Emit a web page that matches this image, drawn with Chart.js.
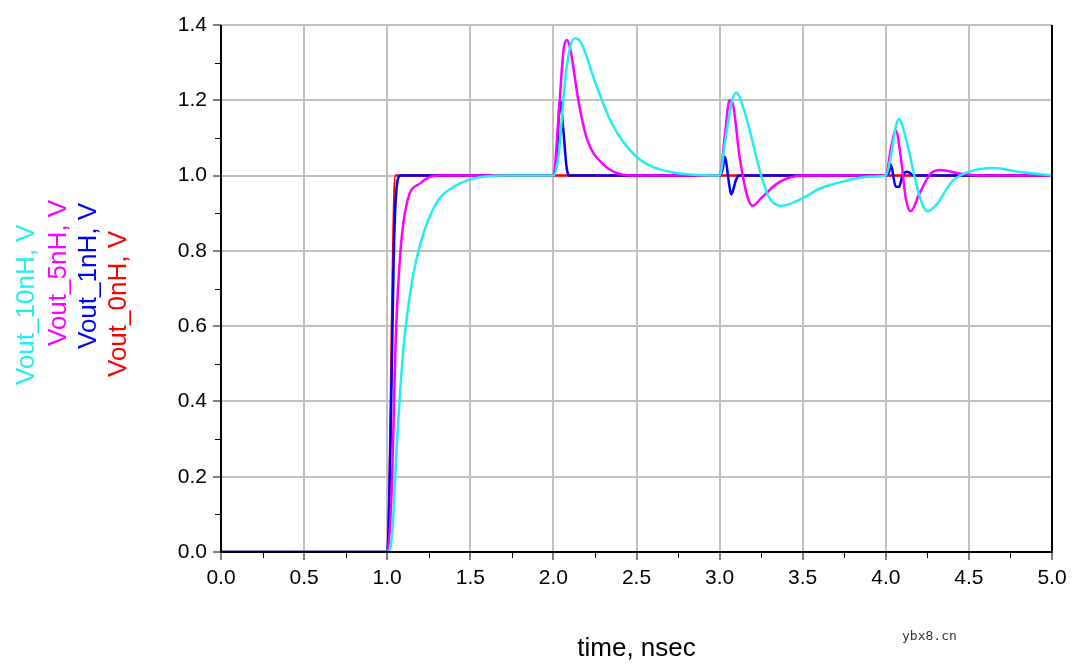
<!DOCTYPE html>
<html>
<head>
<meta charset="utf-8">
<script src="https://cdn.jsdelivr.net/npm/chart.js@4"></script>
<style>
  html, body { margin: 0; padding: 0; background: #fff; }
  #wrap { width: 1080px; height: 666px; }
</style>
</head>
<body>
<div id="wrap"><canvas id="c"></canvas></div>
<script>
// [time ns, volts] pairs
const vout10nH = [[0,0],[1.0,0],[1.03,0.05],[1.06,0.3],[1.1,0.55],[1.15,0.72],[1.2,0.82],[1.3,0.93],[1.4,0.97],[1.5,0.99],[1.7,1.0],[2.0,1.0],[2.03,1.05],[2.07,1.25],[2.1,1.34],[2.13,1.365],[2.17,1.35],[2.25,1.25],[2.35,1.14],[2.5,1.05],[2.7,1.01],[3.0,1.0],[3.03,1.08],[3.07,1.19],[3.1,1.22],[3.15,1.17],[3.25,1.0],[3.3,0.94],[3.37,0.92],[3.5,0.94],[3.6,0.965],[3.75,0.985],[3.9,0.997],[4.0,1.0],[4.03,1.05],[4.06,1.13],[4.08,1.15],[4.12,1.1],[4.2,0.95],[4.25,0.905],[4.3,0.92],[4.4,0.985],[4.5,1.01],[4.65,1.02],[4.8,1.01],[5.0,1.0]];
const vout5nH = [[0,0],[1.0,0],[1.03,0.2],[1.05,0.55],[1.08,0.8],[1.12,0.93],[1.2,0.98],[1.3,1.0],[2.0,1.0],[2.03,1.15],[2.06,1.33],[2.08,1.36],[2.1,1.34],[2.15,1.2],[2.2,1.1],[2.3,1.03],[2.5,1.0],[3.0,1.0],[3.03,1.1],[3.06,1.2],[3.08,1.19],[3.12,1.05],[3.17,0.94],[3.2,0.92],[3.25,0.94],[3.35,0.98],[3.5,1.0],[4.0,1.0],[4.03,1.07],[4.06,1.12],[4.09,1.05],[4.12,0.94],[4.15,0.905],[4.2,0.95],[4.27,1.005],[4.33,1.015],[4.45,1.005],[4.6,1.0],[5.0,1.0]];
const vout1nH = [[0,0],[1.0,0],[1.02,0.3],[1.04,0.8],[1.06,0.98],[1.08,1.0],[2.0,1.0],[2.02,1.05],[2.04,1.2],[2.06,1.12],[2.08,1.02],[2.1,1.0],[3.0,1.0],[3.02,1.02],[3.03,1.05],[3.06,0.97],[3.07,0.95],[3.1,0.99],[3.12,1.0],[4.0,1.0],[4.02,1.01],[4.03,1.03],[4.06,0.97],[4.08,0.97],[4.1,1.0],[4.13,1.01],[4.17,1.0],[5.0,1.0]];
const vout0nH = [[0,0],[1.0,0],[1.05,1.0],[5.0,1.0]];
const seriesNames = ['Vout_10nH, V', 'Vout_5nH, V', 'Vout_1nH, V', 'Vout_0nH, V'];
const seriesColors = ['#22eeee', '#ff00ff', '#0000ff', '#ff0000'];

const toPts = arr => arr.map(p => ({ x: p[0], y: p[1] }));
const allData = [vout10nH, vout5nH, vout1nH, vout0nH];

const extras = {
  id: 'extras',
  afterDraw(chart) {
    const ctx = chart.ctx;
    const a = chart.chartArea;
    const xs = chart.scales.x, ys = chart.scales.y;
    ctx.save();
    ctx.strokeStyle = '#000';
    ctx.lineWidth = 1;
    // minor ticks
    for (let v = 0.1; v < 1.4; v += 0.2) {
      const y = Math.round(ys.getPixelForValue(v)) + 0.5;
      ctx.beginPath(); ctx.moveTo(a.left - 6, y); ctx.lineTo(a.left, y); ctx.stroke();
    }
    for (let v = 0.25; v < 5; v += 0.5) {
      const x = Math.round(xs.getPixelForValue(v)) + 0.5;
      ctx.beginPath(); ctx.moveTo(x, a.bottom); ctx.lineTo(x, a.bottom + 6); ctx.stroke();
    }
    // frame
    ctx.lineWidth = 2;
    ctx.beginPath();
    ctx.moveTo(a.left, a.top); ctx.lineTo(a.left, a.bottom); ctx.lineTo(a.right, a.bottom); ctx.lineTo(a.right, a.top);
    ctx.stroke();
    // x title
    ctx.fillStyle = '#000';
    ctx.font = '26px "Liberation Sans", Arial, sans-serif';
    ctx.textAlign = 'center';
    ctx.textBaseline = 'alphabetic';
    ctx.fillText('time, nsec', (a.left + a.right) / 2, 656);
    // rotated legend
    const lx = [34, 66, 96, 126];
    const ly = [385, 346, 349, 377];
    ctx.textAlign = 'left';
    for (let i = 0; i < 4; i++) {
      ctx.save();
      ctx.translate(lx[i], ly[i]);
      ctx.rotate(-Math.PI / 2);
      ctx.fillStyle = seriesColors[i];
      ctx.fillText(seriesNames[i], 0, 0);
      ctx.restore();
    }
    // watermark
    ctx.font = '13px "DejaVu Sans Mono", monospace';
    ctx.fillStyle = '#333';
    ctx.textAlign = 'left';
    ctx.fillText('ybx8.cn', 902, 640);
    ctx.restore();
  }
};

new Chart(document.getElementById('c'), {
  type: 'line',
  data: {
    datasets: allData.map((d, i) => ({
      label: seriesNames[i],
      data: toPts(d),
      borderColor: seriesColors[i],
      borderWidth: 2.5,
      pointRadius: 0,
      cubicInterpolationMode: 'monotone',
      fill: false
    }))
  },
  options: {
    responsive: true,
    maintainAspectRatio: false,
    animation: false,
    layout: { padding: { top: 25, right: 28, left: 0, bottom: 0 } },
    plugins: { legend: { display: false }, tooltip: { enabled: false } },
    scales: {
      x: {
        type: 'linear', min: 0, max: 5,
        ticks: { stepSize: 0.5, color: '#000', font: { size: 21, family: '"Liberation Sans", Arial' }, callback: v => v.toFixed(1), padding: 6 },
        grid: { color: '#c0c0c0', lineWidth: 2, tickLength: 8, tickColor: '#000', tickWidth: 1 },
        border: { display: false },
        afterFit: s => { s.height = 114; }
      },
      y: {
        min: 0, max: 1.4,
        ticks: { stepSize: 0.2, color: '#000', font: { size: 21, family: '"Liberation Sans", Arial' }, callback: v => v.toFixed(1), padding: 6 },
        grid: { color: '#c0c0c0', lineWidth: 2, tickLength: 8, tickColor: '#000', tickWidth: 1 },
        border: { display: false },
        afterFit: s => { s.width = 221; }
      }
    }
  },
  plugins: [extras]
});
</script>
</body>
</html>
